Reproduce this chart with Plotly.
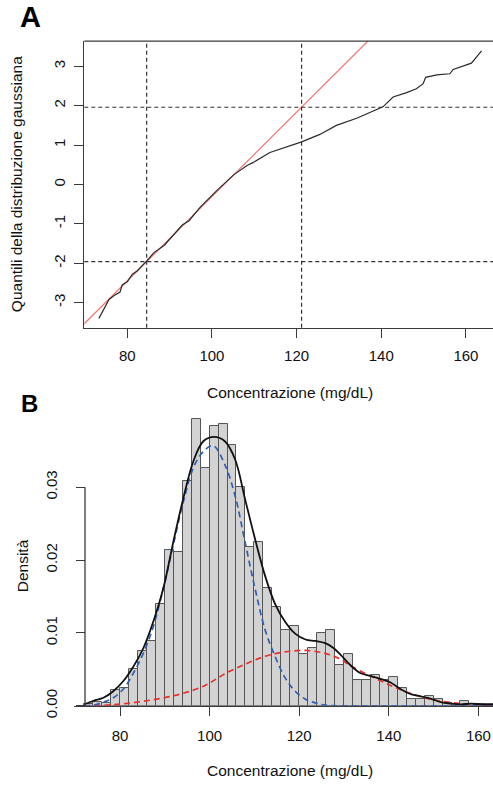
import plotly.graph_objects as go

W, H = 493, 791

# ---------------- Panel A data (QQ plot) ----------------
qq_x = [73.3, 75.7, 76.9, 78.3, 78.8, 80.0, 81.2, 82.4, 84.6, 86.3, 88.7, 91.0, 93.0, 94.6,
        97.3, 101.2, 105.2, 108.3, 109.8, 113.7, 118.4, 121.2, 125.5, 129.4, 134.2, 137.7,
        140.4, 142.8, 146.0, 148.3, 149.9, 150.5, 153.1, 156.2, 157.0, 161.3, 163.7]
qq_y = [-3.40, -2.92, -2.82, -2.73, -2.55, -2.47, -2.28, -2.19, -1.94, -1.73, -1.55, -1.28,
        -1.03, -0.92, -0.57, -0.15, 0.25, 0.48, 0.56, 0.81, 0.97, 1.08, 1.27, 1.50, 1.68,
        1.85, 1.97, 2.22, 2.33, 2.43, 2.56, 2.72, 2.78, 2.81, 2.92, 3.08, 3.39]
qqline_x = [60.0, 170.0]
qqline_y = [-4.59, 7.19]
ref_vlines = [84.58, 121.18]
ref_hlines = [-1.96, 1.96]
a_xticks = [80, 100, 120, 140, 160]
a_yticks = [-3, -2, -1, 0, 1, 2, 3]
a_yticklabels = ["-3", "-2", "-1", "0", "1", "2", "3"]

# ---------------- Panel B data (histogram + densities) ----------------
bin_left = list(range(72, 164, 2))
hist_dens = [0.0002, 0.0005, 0.0004, 0.0021, 0.0024, 0.0050, 0.0075, 0.0089, 0.0140, 0.0214,
             0.0211, 0.0309, 0.0394, 0.0326, 0.0384, 0.0387, 0.0358, 0.0300, 0.0218, 0.0225,
             0.0161, 0.0136, 0.0104, 0.0110, 0.0071, 0.0079, 0.0100, 0.0104, 0.0056, 0.0071,
             0.0036, 0.0036, 0.0042, 0.0036, 0.0039, 0.0025, 0.0010, 0.0010, 0.0014, 0.0010,
             0.0004, 0.0002, 0.0007, 0.0002, 0.0002, 0.0002]

kde_x = [72.0, 74.1, 76.3, 78.5, 80.75, 83.0, 85.2, 87.4, 89.7, 91.9, 94.1, 96.4, 98.6, 101.0,
         103.4, 105.7, 107.9, 110.1, 112.4, 114.6, 116.9, 119.1, 121.4, 123.6, 125.8, 127.5,
         129.1, 131.4, 133.6, 135.9, 138.1, 140.4, 142.6, 144.9, 147.1, 149.3, 151.6, 153.8,
         156.1, 158.3, 160.6, 163.5]
kde_y = [0.0002, 0.0007, 0.0011, 0.0020, 0.0034, 0.0054, 0.0079, 0.0115, 0.0162, 0.0225,
         0.0284, 0.0336, 0.0363, 0.0369, 0.0363, 0.0338, 0.0284, 0.0230, 0.0178, 0.0140,
         0.0115, 0.0099, 0.0091, 0.0089, 0.0086, 0.0080, 0.0071, 0.0056, 0.0045, 0.0041,
         0.0037, 0.0032, 0.0023, 0.0016, 0.0013, 0.0010, 0.0005, 0.0003, 0.0002, 0.0003,
         0.0002, 0.00015]

blue_x = [72.0, 74.1, 76.3, 78.5, 80.75, 83.0, 85.2, 87.4, 89.7, 91.9, 94.1, 96.4, 98.6,
          100.8, 103.4, 105.7, 107.9, 110.1, 112.4, 114.6, 116.9, 119.1, 121.4, 123.6,
          125.8, 130.0, 140.0, 150.0, 163.5]
blue_y = [0.0000, 0.0001, 0.0005, 0.0011, 0.0023, 0.0045, 0.0072, 0.0108, 0.0162, 0.0221,
          0.0279, 0.0327, 0.0349, 0.0357, 0.0331, 0.0288, 0.0225, 0.0162, 0.0104, 0.0068,
          0.0038, 0.0020, 0.0009, 0.0004, 0.0001, 0.0, 0.0, 0.0, 0.0]

red_x = [72.0, 78.5, 86.0, 93.4, 99.0, 103.4, 107.9, 112.4, 116.9, 121.4, 125.8, 129.2,
         131.4, 135.9, 140.4, 144.9, 149.3, 153.8, 158.3, 163.5]
red_y = [0.0000, 0.00015, 0.0007, 0.0016, 0.0028, 0.0044, 0.0057, 0.0068, 0.0074, 0.0076,
         0.0072, 0.0064, 0.0055, 0.0041, 0.0028, 0.0017, 0.0009, 0.00045, 0.0002, 0.0001]

b_xticks = [80, 100, 120, 140, 160]
b_yticks = [0.0, 0.01, 0.02, 0.03]
b_yticklabels = ["0.00", "0.01", "0.02", "0.03"]

FONT = "Liberation Sans, Arial, sans-serif"
AX = "#3a3a3a"


def px(x):
    return x / W


def py(y):
    return 1 - y / H


bin_centers = [b + 1 for b in bin_left]

fig = go.Figure()

# Panel A
fig.add_trace(go.Scatter(x=qqline_x, y=qqline_y, mode="lines",
                         line=dict(color="#f07a72", width=1.3), xaxis="x", yaxis="y",
                         showlegend=False, hoverinfo="skip"))
fig.add_trace(go.Scatter(x=qq_x, y=qq_y, mode="lines",
                         line=dict(color="#2b2b2b", width=1.2), xaxis="x", yaxis="y",
                         showlegend=False))

# Panel B
fig.add_trace(go.Bar(x=bin_centers, y=hist_dens, width=2,
                     marker=dict(color="#d3d3d3", line=dict(color="#555555", width=1)),
                     xaxis="x2", yaxis="y2", showlegend=False))
fig.add_trace(go.Scatter(x=red_x, y=red_y, mode="lines", line_shape="spline",
                         line=dict(color="#e8302e", width=1.7, dash="6px,4px"),
                         xaxis="x2", yaxis="y2", showlegend=False))
fig.add_trace(go.Scatter(x=blue_x, y=blue_y, mode="lines", line_shape="spline",
                         line=dict(color="#2f5fb0", width=1.7, dash="6px,4px"),
                         xaxis="x2", yaxis="y2", showlegend=False))
fig.add_trace(go.Scatter(x=kde_x, y=kde_y, mode="lines", line_shape="spline",
                         line=dict(color="#111111", width=1.8),
                         xaxis="x2", yaxis="y2", showlegend=False))

shapes = []
for v in ref_vlines:
    shapes.append(dict(type="line", xref="x", yref="y domain", x0=v, x1=v, y0=0, y1=1,
                       line=dict(color="#333333", width=1.2, dash="4px,3px")))
for h in ref_hlines:
    shapes.append(dict(type="line", xref="x domain", yref="y", x0=0, x1=1, y0=h, y1=h,
                       line=dict(color="#333333", width=1.2, dash="4px,3px")))
# top border of panel A frame
shapes.append(dict(type="line", xref="x domain", yref="y domain", x0=0, x1=1, y0=1, y1=1,
                   line=dict(color=AX, width=1.3)))
# R-style y axis line of panel B (spans first to last tick)
shapes.append(dict(type="line", xref="paper", yref="y2", x0=px(85), x1=px(85),
                   y0=b_yticks[0], y1=b_yticks[-1], line=dict(color=AX, width=1.3)))

annotations = [
    dict(text="<b>A</b>", x=px(18), y=py(36), xref="paper", yref="paper",
         xanchor="left", yanchor="bottom", showarrow=False,
         font=dict(family=FONT, size=29, color="#000")),
    dict(text="<b>B</b>", x=px(19), y=py(425), xref="paper", yref="paper",
         xanchor="left", yanchor="bottom", showarrow=False,
         font=dict(family=FONT, size=24, color="#000")),
    dict(text="Concentrazione (mg/dL)", x=px(290), y=py(399), xref="paper", yref="paper",
         xanchor="center", yanchor="middle", showarrow=False,
         font=dict(family=FONT, size=15.5, color="#111")),
    dict(text="Concentrazione (mg/dL)", x=px(290), y=py(782), xref="paper", yref="paper",
         xanchor="center", yanchor="middle", showarrow=False,
         font=dict(family=FONT, size=15.5, color="#111")),
    dict(text="Quantili della distribuzione gaussiana", x=px(16), y=py(187),
         xref="paper", yref="paper", xanchor="center", yanchor="middle", textangle=-90,
         showarrow=False, font=dict(family=FONT, size=15.5, color="#111")),
    dict(text="Densità", x=px(22), y=py(575), xref="paper", yref="paper",
         xanchor="center", yanchor="middle", textangle=-90,
         showarrow=False, font=dict(family=FONT, size=15.5, color="#111")),
]

tickfont = dict(family=FONT, size=15, color="#111")

fig.update_layout(
    width=W, height=H,
    margin=dict(l=0, r=0, t=0, b=0),
    paper_bgcolor="white", plot_bgcolor="white",
    bargap=0,
    shapes=shapes,
    annotations=annotations,
    xaxis=dict(domain=[px(84.3), 1.0], range=[69.85, 166.4], anchor="y",
               tickvals=a_xticks, ticks="outside", ticklen=9, tickcolor=AX, tickwidth=1.2,
               showline=True, linecolor=AX, linewidth=1.3, showgrid=False, zeroline=False,
               tickfont=tickfont, ticklabelstandoff=5),
    yaxis=dict(domain=[py(332.7), py(41.7)], range=[-3.635, 3.64], anchor="x",
               tickvals=a_yticks, ticktext=a_yticklabels, tickangle=-90,
               ticks="outside", ticklen=9, tickcolor=AX, tickwidth=1.2,
               showline=True, linecolor=AX, linewidth=1.3, showgrid=False, zeroline=False,
               tickfont=tickfont, ticklabelstandoff=3),
    xaxis2=dict(domain=[px(74), 1.0], range=[69.73, 163.26], anchor="y2",
                tickvals=b_xticks, ticks="outside", ticklen=9, tickcolor=AX, tickwidth=1.2,
                showline=True, linecolor=AX, linewidth=1.3, showgrid=False, zeroline=False,
                tickfont=tickfont, ticklabelstandoff=7),
    yaxis2=dict(domain=[py(716.7), py(413.3)], range=[0, 0.041], anchor="free",
                position=px(85),
                tickvals=b_yticks, ticktext=b_yticklabels, tickangle=-90,
                ticks="outside", ticklen=9, tickcolor=AX, tickwidth=1.2,
                showline=False, showgrid=False, zeroline=False, tickfont=tickfont,
                ticklabelstandoff=13),
)

fig.write_html(
    "out.html",
    config={"displayModeBar": False},
    post_script="document.body.style.margin='0';document.body.style.padding='0';"
                "document.body.style.overflow='hidden';",
)
